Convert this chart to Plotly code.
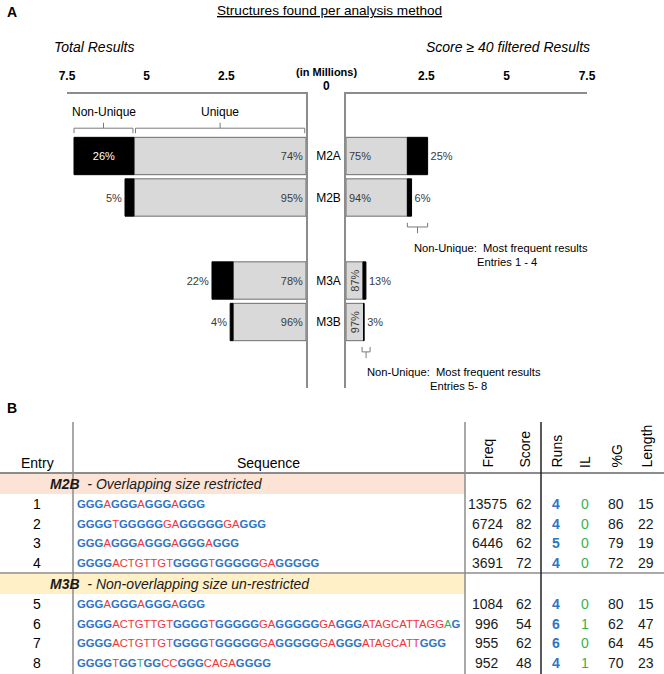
import plotly.graph_objects as go

# ---------------- data ----------------
cats = ["M2A", "M2B", "M3A", "M3B"]
cat_order = ["M2A", "M2B", " ", "M3A", "M3B"]

left_unique = [5.40, 5.40, 2.29, 2.29]          # millions
left_nonunique = [1.88, 0.28, 0.66, 0.09]
left_unique_pct = ["74%", "95%", "78%", "96%"]
left_nonunique_pct = ["26%", "5%", "22%", "4%"]

right_unique = [1.91, 1.91, 0.53, 0.545]
right_nonunique = [0.63, 0.13, 0.09, 0.02]
right_unique_pct = ["75%", "94%", "87%", "97%"]
right_nonunique_pct = ["25%", "6%", "13%", "3%"]

left_ticks = [2.5, 5, 7.5]
right_ticks = [2.5, 5, 7.5]

entries = [1, 2, 3, 4, 5, 6, 7, 8]
seq_text = [
    "GGGAGGGAGGGAGGG",
    "GGGGTGGGGGGAGGGGGGAGGG",
    "GGGAGGGAGGGAGGGAGGG",
    "GGGGACTGTTGTGGGGTGGGGGGAGGGGG",
    "GGGAGGGAGGGAGGG",
    "GGGGACTGTTGTGGGGTGGGGGGAGGGGGGAGGGATAGCATTAGGAG",
    "GGGGACTGTTGTGGGGTGGGGGGAGGGGGGAGGGATAGCATTGGG",
    "GGGGTGGTGGCCGGGCAGAGGGG",
]
seq_color = [
    "BBBRBBBRBBBRBBB",
    "BBBBRBBBBBRRBBBBBRRBBB",
    "BBBRBBBRBBBRBBBRBBB",
    "BBBBRRRRRRRRBBBBRBBBBBRRBBBBB",
    "BBBRBBBRBBBRBBB",
    "BBBBRRRRRRRRBBBBRBBBBBRRBBBBBRRBBBRRRRRRRRRRRNB",
    "BBBBRRRRRRRRBBBBRBBBBBRRBBBBBRRBBBRRRRRRRRBBB",
    "BBBBRBBNBBRRBBBRRRRBBBB",
]
freq = [13575, 6724, 6446, 3691, 1084, 996, 955, 952]
score = [62, 82, 62, 72, 62, 54, 62, 48]
runs = [4, 4, 5, 4, 4, 6, 6, 4]
il = [0, 0, 0, 0, 0, 1, 0, 1]
pct_g = [80, 86, 79, 72, 80, 62, 64, 70]
length = [15, 22, 19, 29, 15, 47, 45, 23]
groups = [("M2B", "Overlapping size restricted"),
          ("M3B", "Non-overlapping size un-restricted")]
col_headers = ["Freq", "Score", "Runs", "IL", "%G", "Length"]

# ---------------- style ----------------
W, H = 664, 674
NARROW = "Liberation Sans Narrow, Arial Narrow, Liberation Sans, Arial"
SANS = "Liberation Sans, Arial"
GRAY_FILL = "#d9d9d9"
GRAY_EDGE = "#6e6e6e"
AX = "#8c8c8c"
BLUE = "#2e75c6"
RED = "#f2353a"
GREEN = "#34b34a"


def px(x):
    return x / W


def py(y):
    return 1 - y / H


fig = go.Figure()

# left (total results)
fig.add_trace(go.Bar(
    y=cats, x=left_unique, orientation="h", width=0.9,
    marker=dict(color=GRAY_FILL, line=dict(color=GRAY_EDGE, width=1)),
    text=left_unique_pct, textposition="inside", insidetextanchor="start",
    textfont=dict(family=NARROW, size=11, color="#3a3a3a"),
    xaxis="x", yaxis="y", hoverinfo="skip", showlegend=False))
fig.add_trace(go.Bar(
    y=cats, x=left_nonunique, base=left_unique, orientation="h", width=0.9,
    marker=dict(color="black", line=dict(color="black", width=1)),
    text=left_nonunique_pct,
    textposition=["inside", "outside", "outside", "outside"],
    insidetextanchor="middle", constraintext="none", cliponaxis=False,
    insidetextfont=dict(family=NARROW, size=11, color="white"),
    outsidetextfont=dict(family=NARROW, size=11, color="#3a3a3a"),
    xaxis="x", yaxis="y", hoverinfo="skip", showlegend=False))

# right (score >= 40 filtered)
fig.add_trace(go.Bar(
    y=cats[:2], x=right_unique[:2], orientation="h", width=0.9,
    marker=dict(color=GRAY_FILL, line=dict(color=GRAY_EDGE, width=1)),
    text=right_unique_pct[:2], textposition="inside", insidetextanchor="start",
    textfont=dict(family=NARROW, size=11, color="#3a3a3a"),
    xaxis="x2", yaxis="y2", hoverinfo="skip", showlegend=False))
fig.add_trace(go.Bar(
    y=cats[2:], x=right_unique[2:], orientation="h", width=0.9,
    marker=dict(color=GRAY_FILL, line=dict(color=GRAY_EDGE, width=1)),
    text=right_unique_pct[2:], textposition="inside", insidetextanchor="middle",
    textangle=-90, constraintext="none",
    textfont=dict(family=NARROW, size=11, color="#3a3a3a"),
    xaxis="x2", yaxis="y2", hoverinfo="skip", showlegend=False))
fig.add_trace(go.Bar(
    y=cats, x=right_nonunique, base=right_unique, orientation="h", width=0.9,
    marker=dict(color="black", line=dict(color="black", width=1)),
    text=right_nonunique_pct, textposition="outside", constraintext="none",
    cliponaxis=False,
    outsidetextfont=dict(family=NARROW, size=11, color="#3a3a3a"),
    xaxis="x2", yaxis="y2", hoverinfo="skip", showlegend=False))

ydom = [py(388), py(94)]
yrange = [5.59, -1.494]
common_y = dict(type="category", categoryorder="array", categoryarray=cat_order,
                range=yrange, domain=ydom, showline=True, linecolor=AX,
                linewidth=1.5, ticks="", showgrid=False, zeroline=False,
                fixedrange=True, automargin=False)
common_x = dict(side="top", showline=True, linecolor=AX, linewidth=1.5,
                ticks="", showgrid=False, zeroline=False, ticklabelstandoff=7,
                tickfont=dict(family=NARROW, size=12, color="black", weight="bold"),
                fixedrange=True, automargin=False)

fig.update_layout(
    width=W, height=H, margin=dict(l=0, r=0, t=0, b=0, autoexpand=False),
    paper_bgcolor="white", plot_bgcolor="rgba(0,0,0,0)",
    barmode="overlay", bargap=0.1,
    xaxis=dict(domain=[px(67), px(306)], range=[7.5, 0], anchor="y",
               tickvals=left_ticks, ticktext=[str(t) for t in left_ticks], **common_x),
    yaxis=dict(anchor="x", side="right", showticklabels=True, ticklabelstandoff=6,
               tickfont=dict(family=NARROW, size=12, color="black"), **common_y),
    xaxis2=dict(domain=[px(346), px(587)], range=[0, 7.5], anchor="y2",
                tickvals=right_ticks, ticktext=[str(t) for t in right_ticks], **common_x),
    yaxis2=dict(anchor="x2", side="left", showticklabels=False, **common_y),
)

ann = []
shapes = []


def text(x, y, s, size=12, family=NARROW, color="black", xanchor="center",
         yanchor="middle", **kw):
    ann.append(dict(x=px(x), y=py(y), xref="paper", yref="paper", text=s,
                    showarrow=False, xanchor=xanchor, yanchor=yanchor,
                    font=dict(size=size, family=family, color=color, **kw)))


def line(x0, y0, x1, y1, color=AX, width=1.5, xref="paper", yref="paper"):
    if xref == "paper":
        x0, x1 = px(x0), px(x1)
    if yref == "paper":
        y0, y1 = py(y0), py(y1)
    shapes.append(dict(type="line", x0=x0, y0=y0, x1=x1, y1=y1, xref=xref,
                       yref=yref, line=dict(color=color, width=width)))


def bracket(xa, ya, x0, x1, y_end, y_bar, y_tip):
    xm = (x0 + x1) / 2
    kw = dict(color="#7a7a7a", width=1, xref=xa, yref=ya)
    line(x0, y_end, x0, y_bar, **kw)
    line(x1, y_end, x1, y_bar, **kw)
    line(x0, y_bar, x1, y_bar, **kw)
    line(xm, y_bar, xm, y_tip, **kw)


# ---- panel A texts ----
text(12, 12, "<b>A</b>", size=14, family=SANS)
text(329, 11, "Structures found per analysis method", size=13.6,
     lineposition="under")
text(52, 47, "Total Results", size=14, xanchor="left", style="italic")
text(592, 47, "Score ≥ 40 filtered Results", size=14, xanchor="right",
     style="italic")
text(326, 72, "(in Millions)", size=11, weight="bold")
text(326, 86, "0", size=12, weight="bold")

# brackets above M2A (left)
tot0 = left_unique[0] + left_nonunique[0]
bracket("x", "y", tot0, left_unique[0] + 0.03, -0.55, -0.67, -0.80)
bracket("x", "y", left_unique[0] - 0.05, 0.04, -0.55, -0.67, -0.80)
ann.append(dict(x=(tot0 + left_unique[0]) / 2, y=-1.05, xref="x", yref="y",
                text="Non-Unique", showarrow=False,
                font=dict(family=NARROW, size=12, color="black")))
ann.append(dict(x=left_unique[0] / 2, y=-1.05, xref="x", yref="y",
                text="Unique", showarrow=False,
                font=dict(family=NARROW, size=12, color="black")))

# brackets on right
bracket("x2", "y2", right_unique[0], right_unique[0] + right_nonunique[0],
        1.61, 1.71, 1.86)
bracket("x2", "y2", 0.50, 0.75, 4.60, 4.72, 4.87)
text(412, 248, "Non-Unique:  Most frequent results", size=11.2, xanchor="left")
text(507, 262, "Entries 1 - 4", size=11.2)
text(365, 372, "Non-Unique:  Most frequent results", size=11.2, xanchor="left")
text(458, 386, "Entries 5- 8", size=11.2)

# ---- panel B table ----
text(12, 408, "<b>B</b>", size=14, family=SANS)
top_y, bot_y = 422, 674
head_line = 473
row_h = 19.5
group_top = [474, 574]
group_fill = ["#fbe3d6", "#fff0c8"]

for gi in range(2):
    shapes.append(dict(type="rect", xref="paper", yref="paper",
                       x0=px(0), x1=px(465), y0=py(group_top[gi]),
                       y1=py(group_top[gi] + 20), fillcolor=group_fill[gi],
                       line=dict(width=0), layer="below"))

line(0, head_line, 664, head_line, color="#8c8c8c", width=2)
line(0, 573, 664, 573, color="#8c8c8c", width=1.5)
line(73, top_y, 73, bot_y, color="#8c8c8c", width=1.5)
line(465, top_y, 465, bot_y, color="#8c8c8c", width=1.5)
line(541, top_y, 541, bot_y, color="#222222", width=1.5)

text(37, 463, "Entry", size=14, family=SANS)
text(268, 463, "Sequence", size=14, family=SANS)
col_x = [487, 524, 556, 585, 616, 646]
for cx, h in zip(col_x, col_headers):
    ann.append(dict(x=px(cx), y=py(470), xref="paper", yref="paper", text=h,
                    showarrow=False, textangle=-90, xanchor="center",
                    yanchor="bottom",
                    font=dict(size=14, family=SANS, color="black")))

for gi, (g, desc) in enumerate(groups):
    text(48, group_top[gi] + 10, "<b><i>%s</i></b>  <i>- %s</i>" % (g, desc),
         size=14, family=SANS, xanchor="left", color="#1a1a1a")

CMAP = {"B": BLUE, "R": RED, "N": GREEN}


def rich(seq, cols):
    out, i = [], 0
    while i < len(seq):
        j = i
        while j < len(seq) and cols[j] == cols[i]:
            j += 1
        chunk = seq[i:j]
        c = CMAP[cols[i]]
        if cols[i] == "B":
            out.append('<b><span style="color:%s">%s</span></b>' % (c, chunk))
        else:
            out.append('<span style="color:%s">%s</span>' % (c, chunk))
        i = j
    return "".join(out)


for k in range(8):
    g = 0 if k < 4 else 1
    y = group_top[g] + 30 + (k % 4) * row_h
    text(37, y, str(entries[k]), size=14, family=SANS)
    text(75, y, rich(seq_text[k], seq_color[k]), size=11.3, family=SANS,
         xanchor="left")
    vals = [freq[k], score[k], runs[k], il[k], pct_g[k], length[k]]
    for ci, (cx, v) in enumerate(zip(col_x, vals)):
        if ci == 2:
            text(cx, y, "<b>%d</b>" % v, size=14, family=SANS, color=BLUE)
        elif ci == 3:
            text(cx, y, str(v), size=14, family=SANS, color=GREEN)
        else:
            text(cx, y, str(v), size=14, family=SANS, color="#1a1a1a")

fig.update_layout(annotations=ann, shapes=shapes)
fig.write_html("out.html", config={"displayModeBar": False},
               post_script="document.body.style.margin='0';"
                           "document.body.style.overflow='hidden';")
